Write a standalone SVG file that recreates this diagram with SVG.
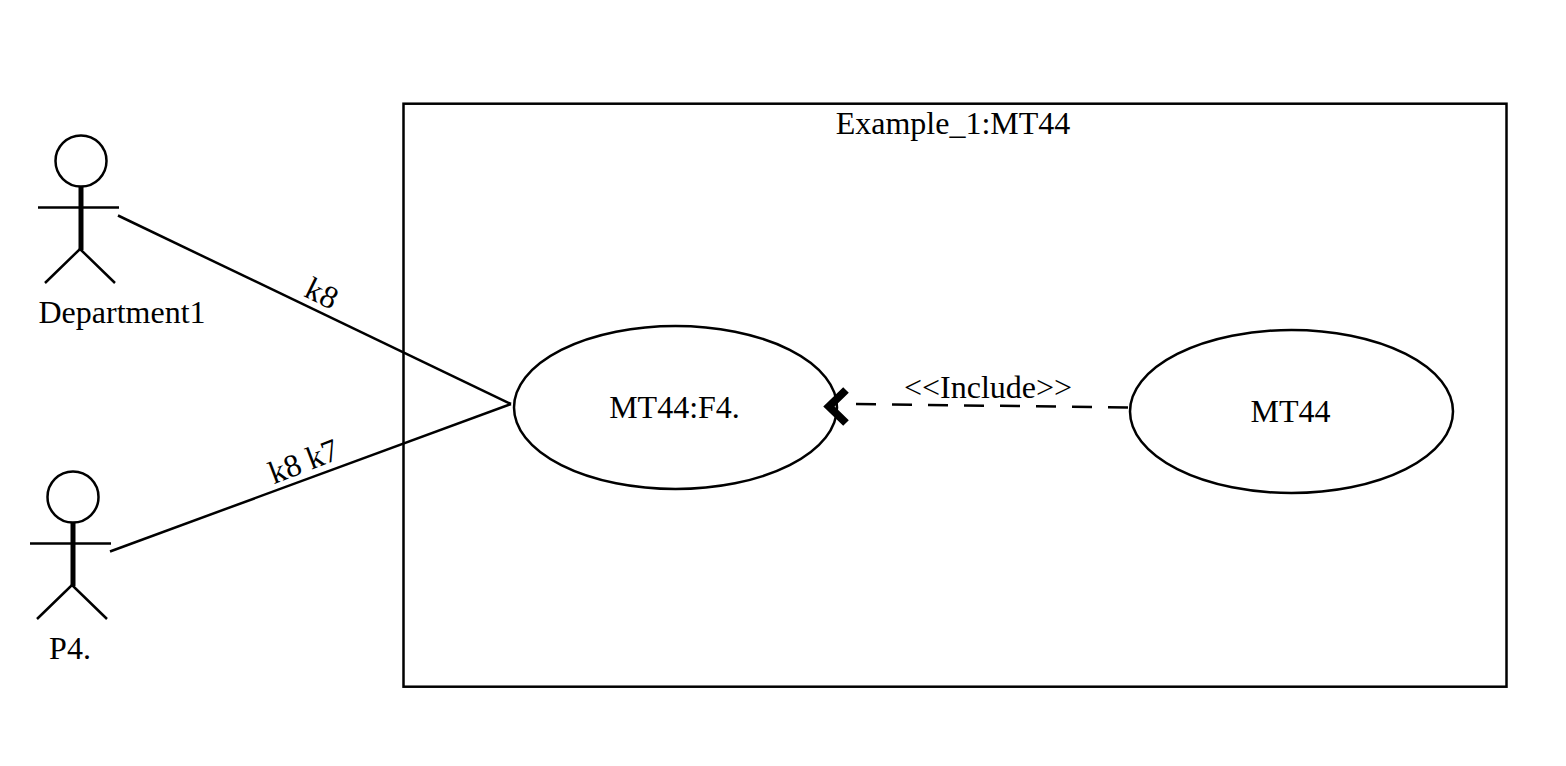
<svg xmlns="http://www.w3.org/2000/svg" width="1566" height="766" viewBox="0 0 1566 766">
<style>
text{font-family:"Liberation Serif","Times New Roman",serif;font-size:32px;fill:#000;text-anchor:middle}
.s{fill:none;stroke:#000;stroke-width:2.5}
.e{fill:#fff;stroke:#000;stroke-width:2.5}
.b{fill:none;stroke:#000;stroke-width:5}
.a{fill:none;stroke:#000;stroke-width:8}
</style>
<rect width="1566" height="766" fill="#fff"/>
<g id="boundary">
<rect class="s" x="403.500" y="103.700" width="1103" height="583"/>
<text x="953" y="134">Example_1:MT44</text>
</g>
<g id="actor-department1">
<circle class="s" cx="81" cy="161" r="25.500"/>
<line class="b" x1="81" y1="186" x2="81" y2="250"/>
<line class="s" x1="38" y1="207.500" x2="119" y2="207.500"/>
<path class="s" d="M45 283L80 249L115 283"/>
<text x="122" y="323">Department1</text>
</g>
<g id="actor-p4">
<circle class="s" cx="73" cy="497" r="25.500"/>
<line class="b" x1="73" y1="522" x2="73" y2="586"/>
<line class="s" x1="30" y1="543.500" x2="111" y2="543.500"/>
<path class="s" d="M37 619L72 585L107 619"/>
<text x="70" y="659">P4.</text>
</g>
<g id="usecase-f4">
<ellipse class="e" cx="675.500" cy="407.500" rx="161.500" ry="81.500"/>
<text x="674.500" y="418">MT44:F4.</text>
</g>
<g id="usecase-mt44">
<ellipse class="e" cx="1291.500" cy="411.500" rx="161.500" ry="81.500"/>
<text x="1290.500" y="422">MT44</text>
</g>
<g id="connectors">
<line class="s" x1="118" y1="215.500" x2="511" y2="404"/>
<line class="s" x1="110" y1="551.500" x2="511" y2="404"/>
<line class="s" x1="1128" y1="407.500" x2="856" y2="404" stroke-dasharray="20 16"/>
<path class="a" d="M846 390L829 406.500L846 423"/>
<text transform="translate(322 293) rotate(26)" y="11">k8</text>
<text transform="translate(303.500 461) rotate(-21)" y="11">k8 k7</text>
<text x="988" y="398">&lt;&lt;Include&gt;&gt;</text>
</g>
</svg>
